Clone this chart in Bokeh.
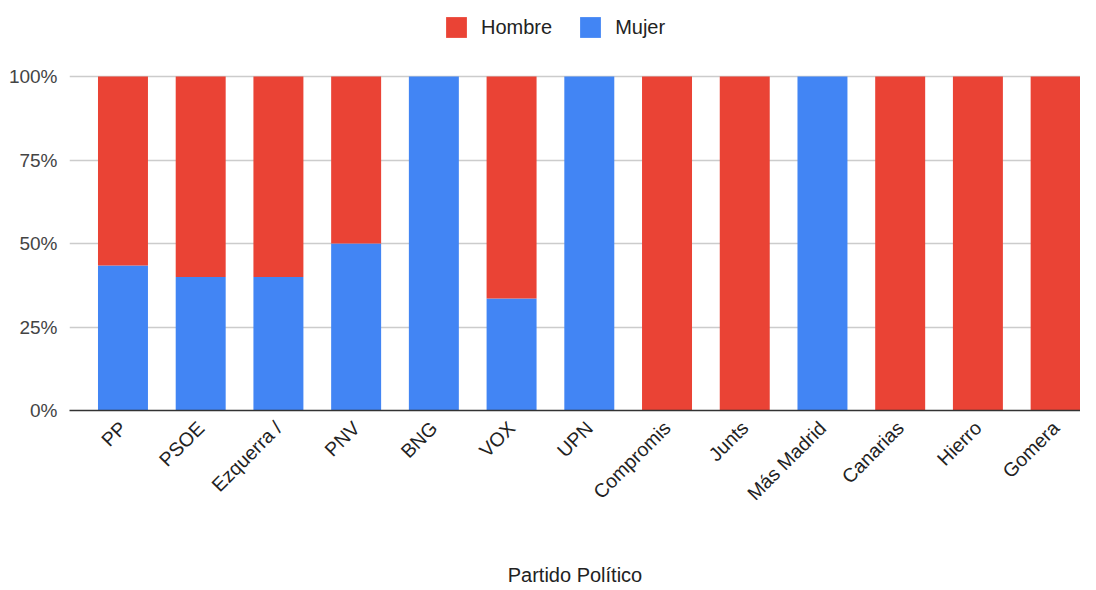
from bokeh.plotting import figure
from bokeh.models import (ColumnDataSource, Range1d, FixedTicker, NumeralTickFormatter,
                          Legend, LegendItem)
from bokeh.embed import file_html
from bokeh.resources import INLINE
import math

partidos = ["PP", "PSOE", "Ezquerra /", "PNV", "BNG", "VOX", "UPN", "Compromis",
            "Junts", "Más Madrid", "Canarias", "Hierro", "Gomera"]
mujer = [0.434, 0.40, 0.40, 0.50, 1.0, 0.335, 1.0, 0.0, 0.0, 1.0, 0.0, 0.0, 0.0]
hombre = [0.566, 0.60, 0.60, 0.50, 0.0, 0.665, 0.0, 1.0, 1.0, 0.0, 1.0, 1.0, 1.0]
y_ticks = [0, 0.25, 0.5, 0.75, 1.0]

RED = "#EA4335"
BLUE = "#4285F4"
FONT = "Liberation Sans"

idx = list(range(len(partidos)))
src = ColumnDataSource(dict(x=idx, Mujer=mujer, Hombre=hombre))

# frame extends above 100% to hold the legend (top strip is empty)
p = figure(frame_width=1011, frame_height=410, output_backend="svg", toolbar_location=None,
           x_range=Range1d(-0.688, 12.32), y_range=Range1d(0, 1 + 76 / 334),
           min_border_left=69, min_border_right=0, min_border_top=0,
           min_border_bottom=176)
p.outline_line_color = None

rs = p.vbar_stack(["Mujer", "Hombre"], x="x", width=0.643, source=src,
                  color=[BLUE, RED], line_color=None)

# axes
p.xaxis.ticker = FixedTicker(ticks=idx)
p.xaxis.major_label_overrides = {i: s for i, s in enumerate(partidos)}
p.xaxis.major_label_orientation = math.pi / 4
p.xaxis.major_tick_line_color = None
p.xaxis.minor_tick_line_color = None
p.xaxis.axis_line_color = "#333333"
p.xaxis.axis_line_width = 1.5
p.xaxis.major_label_text_font = FONT
p.xaxis.major_label_text_font_size = "19.5px"
p.xaxis.major_label_text_color = "#222222"
p.xaxis.major_label_standoff = 8
p.xaxis.axis_label = "Partido Político"
p.xaxis.axis_label_text_font = FONT
p.xaxis.axis_label_text_font_size = "20px"
p.xaxis.axis_label_text_font_style = "normal"
p.xaxis.axis_label_text_color = "#222222"
p.xaxis.axis_label_standoff = 49

p.yaxis.ticker = FixedTicker(ticks=y_ticks)
p.yaxis.formatter = NumeralTickFormatter(format="0%")
p.yaxis.axis_line_color = None
p.yaxis.major_tick_line_color = None
p.yaxis.minor_tick_line_color = None
p.yaxis.major_tick_out = 0
p.yaxis.major_label_text_font = FONT
p.yaxis.major_label_text_font_size = "19px"
p.yaxis.major_label_text_color = "#444444"
p.yaxis.major_label_standoff = 12

p.xgrid.grid_line_color = None
p.ygrid.ticker = FixedTicker(ticks=y_ticks)
p.ygrid.grid_line_color = "#cccccc"
p.ygrid.grid_line_width = 1.5

legend = Legend(items=[LegendItem(label="Hombre", renderers=[rs[1]]),
                       LegendItem(label="Mujer", renderers=[rs[0]])],
                location=(374, 370), orientation="horizontal")
legend.padding = 0
legend.margin = 0
legend.spacing = 25
legend.label_standoff = 12
legend.glyph_width = 26
legend.glyph_height = 26
legend.label_text_font = FONT
legend.label_text_font_size = "20px"
legend.label_text_color = "#222222"
legend.border_line_color = None
legend.background_fill_alpha = 0
p.add_layout(legend, "center")

open("out.html", "w").write(file_html(p, INLINE))
